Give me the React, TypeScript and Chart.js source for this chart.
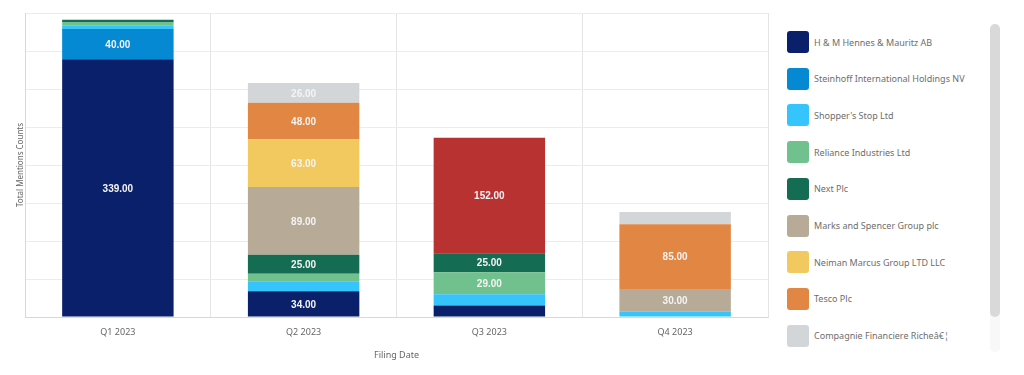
import React, { useEffect, useRef } from "react";
import { Chart, registerables } from "chart.js";

Chart.register(...registerables);

const categories = ["Q1 2023", "Q2 2023", "Q3 2023", "Q4 2023"];
const seriesNames = [
  "H & M Hennes & Mauritz AB",
  "Steinhoff International Holdings NV",
  "Shopper's Stop Ltd",
  "Reliance Industries Ltd",
  "Next Plc",
  "Marks and Spencer Group plc",
  "Neiman Marcus Group LTD LLC",
  "Tesco Plc",
  "Compagnie Financiere Richeâ€¦",
  "Other",
];
const seriesColors = [
  "#0a206a",
  "#0489d2",
  "#36c4fc",
  "#71c18e",
  "#146d53",
  "#b7ab98",
  "#f1c95e",
  "#e18643",
  "#d3d6d9",
  "#b83232",
];
const hmValues = [339, 34, 15, null];
const steinhoffValues = [40, null, null, null];
const shoppersValues = [5, 13, 15, 7];
const relianceValues = [4, 10, 29, null];
const nextValues = [3, 25, 25, null];
const marksValues = [null, 89, null, 30];
const neimanValues = [null, 63, null, null];
const tescoValues = [null, 48, null, 85];
const compagnieValues = [null, 26, null, 16];
const otherValues = [null, null, 152, null];
const allValues = [
  hmValues,
  steinhoffValues,
  shoppersValues,
  relianceValues,
  nextValues,
  marksValues,
  neimanValues,
  tescoValues,
  compagnieValues,
  otherValues,
];
const yMax = 400;
const yStep = 50;
const labelThreshold = 20;

const labelPlugin = {
  id: "segLabels",
  afterDatasetsDraw(chart: any) {
    const ctx = chart.ctx;
    ctx.save();
    ctx.font = "bold 10px 'Liberation Sans', Arial, sans-serif";
    ctx.fillStyle = "#f4f4f4";
    ctx.textAlign = "center";
    ctx.textBaseline = "middle";
    chart.data.datasets.forEach((ds: any, i: number) => {
      const meta = chart.getDatasetMeta(i);
      meta.data.forEach((bar: any, j: number) => {
        const v = ds.data[j];
        if (v == null || v < labelThreshold) return;
        const { x, y, base } = bar.getProps(["x", "y", "base"], true);
        ctx.fillText(Number(v).toFixed(2), x, (y + base) / 2 + 1);
      });
    });
    ctx.restore();
  },
};

export default function App() {
  const canvasRef = useRef<HTMLCanvasElement>(null);

  useEffect(() => {
    document.body.style.margin = "0";
    const chart = new Chart(canvasRef.current as HTMLCanvasElement, {
      type: "bar",
      data: {
        labels: categories,
        datasets: allValues.map((vals, i) => ({
          label: seriesNames[i],
          data: vals,
          backgroundColor: seriesColors[i],
          borderWidth: 0,
          barPercentage: 0.6,
          categoryPercentage: 1,
        })),
      },
      options: {
        animation: false,
        responsive: false,
        maintainAspectRatio: false,
        layout: { padding: { top: 13, right: 12, left: 0, bottom: 0 } },
        plugins: {
          legend: { display: false },
          tooltip: { enabled: false },
        },
        scales: {
          x: {
            stacked: true,
            grid: { color: "#e4e4e4", drawTicks: false, offset: true },
            border: { color: "#d8d8d8" },
            ticks: {
              color: "#666",
              font: { size: 9, family: "'Noto Sans', sans-serif" },
              padding: 10,
            },
            title: {
              display: true,
              text: "Filing Date",
              color: "#666",
              font: { size: 9, family: "'Noto Sans', sans-serif" },
              padding: { top: 4, bottom: 14 },
            },
            afterFit(scale: any) {
              scale.height = 58;
            },
          },
          y: {
            stacked: true,
            min: 0,
            max: yMax,
            ticks: { display: false, stepSize: yStep },
            grid: { color: "#ececec", drawTicks: false },
            border: { color: "#d8d8d8" },
            title: {
              display: true,
              text: "Total Mentions Counts",
              color: "#666",
              font: { size: 8, family: "'Noto Sans', sans-serif" },
              padding: { top: 16, bottom: 0 },
            },
            afterFit(scale: any) {
              scale.width = 25;
            },
          },
        },
      },
      plugins: [labelPlugin],
    });
    return () => chart.destroy();
  }, []);

  const visible = seriesNames.slice(0, 9);

  return (
    <div
      style={{
        position: "fixed",
        left: 0,
        top: 0,
        width: 1024,
        height: 375,
        background: "#fff",
        fontFamily: "'Noto Sans', sans-serif",
      }}
    >
      <canvas
        ref={canvasRef}
        width={780}
        height={375}
        style={{ position: "absolute", left: 0, top: 0, width: 780, height: 375 }}
      />
      <div
        style={{
          position: "absolute",
          left: 787,
          top: 24,
          width: 195,
          height: 328,
          overflow: "hidden",
        }}
      >
        {visible.map((name, i) => (
          <div
            key={name}
            style={{
              position: "absolute",
              left: 0,
              top: 7 + i * 36.7,
              height: 22,
              display: "flex",
              alignItems: "center",
              whiteSpace: "nowrap",
            }}
          >
            <div
              style={{
                width: 22,
                height: 22,
                borderRadius: 3,
                background: seriesColors[i],
                marginRight: 5,
                flex: "none",
              }}
            />
            <span style={{ fontSize: 9, color: "#6e6e6e" }}>{name}</span>
          </div>
        ))}
      </div>
      <div
        style={{
          position: "absolute",
          left: 990,
          top: 24,
          width: 10,
          height: 328,
          borderRadius: 5,
          background: "#f8f8f8",
        }}
      />
      <div
        style={{
          position: "absolute",
          left: 990,
          top: 24,
          width: 10,
          height: 293,
          borderRadius: 5,
          background: "#d9d9d9",
        }}
      />
    </div>
  );
}
